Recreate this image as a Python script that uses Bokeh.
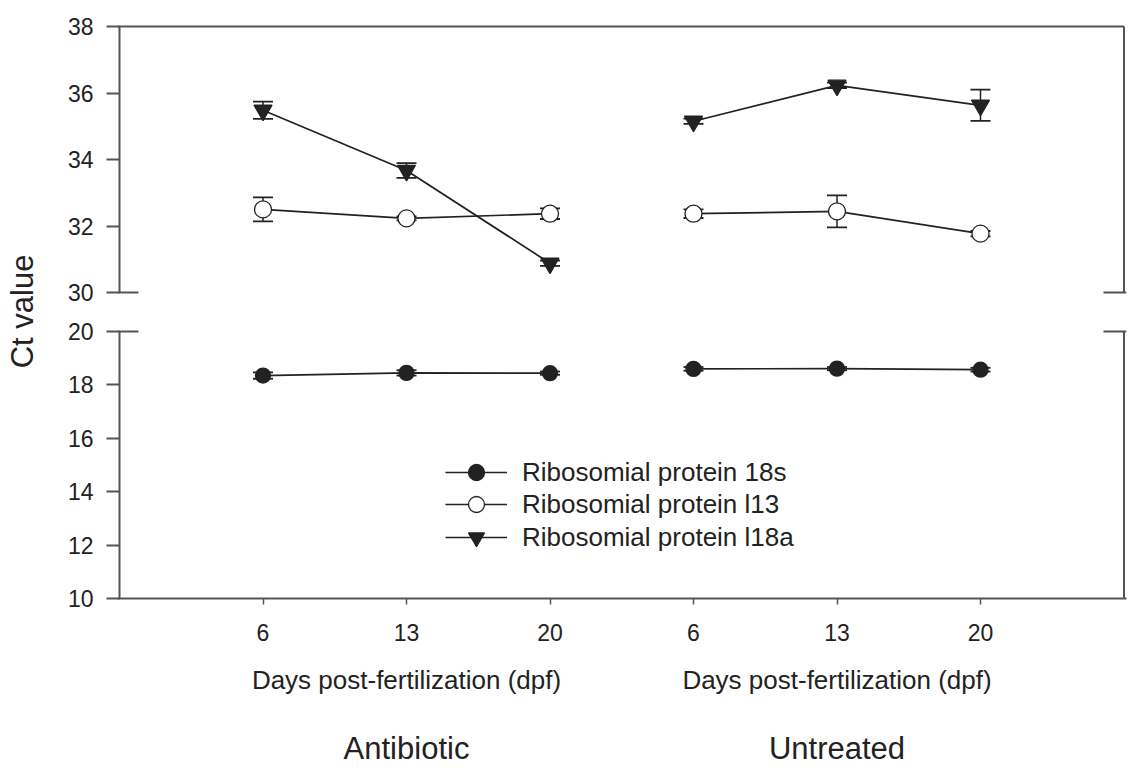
from bokeh.plotting import figure
from bokeh.models import (Range1d, LinearAxis, FixedTicker, ColumnDataSource, Whisker,
                          TeeHead, Legend, LegendItem)
from bokeh.embed import file_html
from bokeh.resources import INLINE

# ---------------- data ----------------
days = ["6", "13", "20"]
groups = ["Antibiotic", "Untreated"]
x_title = "Days post-fertilization (dpf)"
y_title = "Ct value"
series_names = ["Ribosomial protein 18s", "Ribosomial protein l13", "Ribosomial protein l18a"]

upper_ticks = [30, 32, 34, 36, 38]
lower_ticks = [10, 12, 14, 16, 18, 20]

rp18s_antibiotic = [18.35, 18.45, 18.44]
rp18s_antibiotic_err = [0.12, 0.10, 0.06]
rp18s_untreated = [18.60, 18.61, 18.57]
rp18s_untreated_err = [0.07, 0.06, 0.07]

l13_antibiotic = [32.50, 32.23, 32.37]
l13_antibiotic_err = [0.36, 0.06, 0.16]
l13_untreated = [32.37, 32.44, 31.77]
l13_untreated_err = [0.13, 0.48, 0.08]

l18a_antibiotic = [35.48, 33.67, 30.88]
l18a_antibiotic_err = [0.26, 0.22, 0.08]
l18a_untreated = [35.15, 36.23, 35.63]
l18a_untreated_err = [0.08, 0.08, 0.47]

# ---------------- layout constants ----------------
W, H = 1130, 770
FL, FR, FT, FB = 117, 1126, 24, 598          # frame edges (px)
UP_TOP_PX, UP_BOT_PX = 26, 292               # px of top / bottom of upper panel
LO_TOP_PX, LO_BOT_PX = 331, 598              # px of top / bottom of lower panel
X0_PX, STEP_PX = 119, 143.5                  # px of x=0 and per-category step
LEGEND_ROW_PX = [472, 504, 537]              # legend row centres (px from top)

INK = "#222222"
SPINE = "#555555"
FONT = "Liberation Sans"

n = len(days)
x_ab = [i + 1 for i in range(n)]
x_un = [n + i + 1 for i in range(n)]
x_all = x_ab + x_un
x_lo, x_hi = 0, len(x_all) + 1
group_centers = [sum(x_ab) / n, sum(x_un) / n]

x_start = x_lo - (X0_PX - FL) / STEP_PX
x_end = x_start + (FR - FL) / STEP_PX

s_up = (UP_BOT_PX - UP_TOP_PX) / (upper_ticks[-1] - upper_ticks[0])
up_end = upper_ticks[-1] + (UP_TOP_PX - FT) / s_up
up_start = up_end - (FB - FT) / s_up

s_lo = (LO_BOT_PX - LO_TOP_PX) / (lower_ticks[-1] - lower_ticks[0])
lo_start = lower_ticks[0] - (FB - LO_BOT_PX) / s_lo
lo_end = lo_start + (FB - FT) / s_lo

p = figure(width=W, height=H, x_range=Range1d(x_start, x_end),
           y_range=Range1d(lo_start, lo_end),
           x_axis_type=None, y_axis_type=None,
           min_border_left=FL, min_border_right=W - FR,
           min_border_top=FT, min_border_bottom=H - FB,
           output_backend="svg", toolbar_location=None)
p.extra_y_ranges = {"upper": Range1d(up_start, up_end)}
p.outline_line_color = None
p.background_fill_color = "white"
p.border_fill_color = "white"

# ---------------- y axis (broken) ----------------
def up_to_main(u):
    return lo_start + (u - up_start) / (up_end - up_start) * (lo_end - lo_start)

tick_pos = [float(t) for t in lower_ticks] + [round(up_to_main(u), 9) for u in upper_ticks]
tick_lab = [str(t) for t in lower_ticks] + [str(u) for u in upper_ticks]
overrides = {tp: tl for tp, tl in zip(tick_pos, tick_lab)}

yaxis = LinearAxis(ticker=FixedTicker(ticks=tick_pos, minor_ticks=[]),
                   major_label_overrides=overrides)
yaxis.axis_line_color = None
yaxis.major_tick_in = 2
yaxis.major_tick_out = 11
yaxis.major_tick_line_color = SPINE
yaxis.major_tick_line_width = 2
yaxis.minor_tick_line_color = None
yaxis.major_label_text_font = FONT
yaxis.major_label_text_font_size = "23px"
yaxis.major_label_text_color = INK
yaxis.major_label_standoff = 13
yaxis.axis_label = y_title
yaxis.axis_label_text_font = FONT
yaxis.axis_label_text_font_size = "31px"
yaxis.axis_label_text_font_style = "normal"
yaxis.axis_label_text_color = INK
yaxis.axis_label_standoff = 25
p.add_layout(yaxis, "left")

# ---------------- x axes (days, x title, group names) ----------------
xaxis = LinearAxis(ticker=FixedTicker(ticks=x_all, minor_ticks=[]),
                   major_label_overrides={x: d for x, d in zip(x_all, days + days)})
xaxis.axis_line_color = SPINE
xaxis.axis_line_width = 2
xaxis.major_tick_in = 0
xaxis.major_tick_out = 6
xaxis.major_tick_line_color = SPINE
xaxis.major_tick_line_width = 1.5
xaxis.minor_tick_line_color = None
xaxis.major_label_text_font = FONT
xaxis.major_label_text_font_size = "23px"
xaxis.major_label_text_color = INK
xaxis.major_label_standoff = 19
p.add_layout(xaxis, "below")


def label_axis(labels, size, standoff):
    ax = LinearAxis(ticker=FixedTicker(ticks=group_centers, minor_ticks=[]),
                    major_label_overrides={c: t for c, t in zip(group_centers, labels)})
    ax.axis_line_color = None
    ax.major_tick_line_color = None
    ax.minor_tick_line_color = None
    ax.major_tick_in = 0
    ax.major_tick_out = 0
    ax.major_label_text_font = FONT
    ax.major_label_text_font_size = size
    ax.major_label_text_color = INK
    ax.major_label_standoff = standoff
    p.add_layout(ax, "below")
    return ax


label_axis([x_title, x_title], "26px", 21)
label_axis(groups, "31px", 33)

# ---------------- frame / spines / break marks ----------------
sp = dict(line_color=SPINE, line_width=2)
p.segment(x0=[x_lo, x_hi, x_start], y0=[upper_ticks[0], upper_ticks[0], upper_ticks[-1]],
          x1=[x_lo, x_hi, x_hi], y1=[upper_ticks[-1], upper_ticks[-1], upper_ticks[-1]],
          y_range_name="upper", **sp)
p.segment(x0=[x_lo, x_hi], y0=[lower_ticks[0], lower_ticks[0]],
          x1=[x_lo, x_hi], y1=[lower_ticks[-1], lower_ticks[-1]], **sp)
bl = (138 - X0_PX) / STEP_PX
br = (X0_PX + x_hi * STEP_PX - 1103) / STEP_PX
p.segment(x0=[x_start, x_hi - br], y0=[upper_ticks[0]] * 2,
          x1=[x_lo + bl, x_end], y1=[upper_ticks[0]] * 2, y_range_name="upper", **sp)
p.segment(x0=[x_start, x_hi - br], y0=[lower_ticks[-1]] * 2,
          x1=[x_lo + bl, x_end], y1=[lower_ticks[-1]] * 2, **sp)

# ---------------- series ----------------
series = [
    (rp18s_antibiotic, rp18s_antibiotic_err, rp18s_untreated, rp18s_untreated_err,
     "circle", 15, INK, "default"),
    (l13_antibiotic, l13_antibiotic_err, l13_untreated, l13_untreated_err,
     "circle", 17, "white", "upper"),
    (l18a_antibiotic, l18a_antibiotic_err, l18a_untreated, l18a_untreated_err,
     "inverted_triangle", 18, INK, "upper"),
]

GLYPH_H = 40
for k, (name, (ya, ea, yu, eu, marker, size, fill, rng)) in enumerate(zip(series_names, series)):
    first = None
    for xs, ys, es in ((x_ab, ya, ea), (x_un, yu, eu)):
        src = ColumnDataSource(dict(x=xs, y=ys,
                                    upper=[v + e for v, e in zip(ys, es)],
                                    lower=[v - e for v, e in zip(ys, es)]))
        wh = Whisker(base="x", upper="upper", lower="lower", source=src, dimension="height",
                     line_color=INK, line_width=1.5, level="underlay",
                     upper_head=TeeHead(size=20, line_color=INK, line_width=1.8),
                     lower_head=TeeHead(size=20, line_color=INK, line_width=1.8),
                     y_range_name=rng)
        p.add_layout(wh)
        lr = p.line("x", "y", source=src, line_color=INK, line_width=1.7, y_range_name=rng)
        mr = p.scatter("x", "y", source=src, marker=marker, size=size, fill_color=fill,
                       line_color=INK, line_width=1.3, y_range_name=rng)
        if first is None:
            first = [lr, mr]
    leg = Legend(items=[LegendItem(label=name, renderers=first)],
                 location=(445 - FL, FB - LEGEND_ROW_PX[k] - GLYPH_H / 2))
    leg.glyph_width = 62
    leg.glyph_height = GLYPH_H
    leg.label_standoff = 15
    leg.padding = 0
    leg.margin = 0
    leg.border_line_color = None
    leg.background_fill_alpha = 0
    leg.label_text_font = FONT
    leg.label_text_font_size = "26px"
    leg.label_text_color = INK
    p.add_layout(leg)

open("out.html", "w").write(file_html(p, INLINE))
